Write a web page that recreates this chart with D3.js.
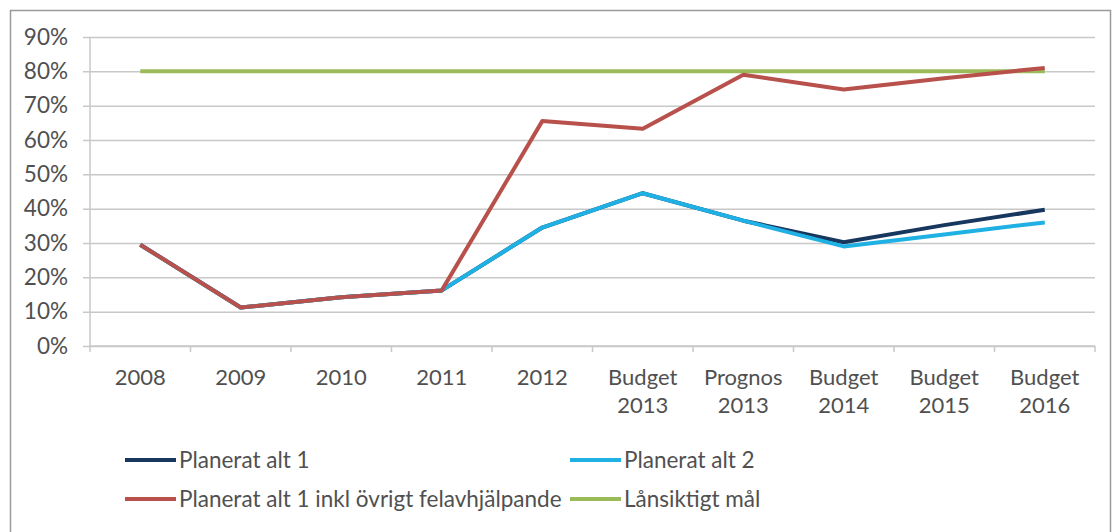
<!DOCTYPE html>
<html>
<head>
<meta charset="utf-8">
<script src="https://cdn.jsdelivr.net/npm/d3@7"></script>
<style>
  body { margin: 0; background: #fff; }
  svg text { font-family: Lato, "Liberation Sans", sans-serif; fill: #505050; }
</style>
</head>
<body>
<svg id="chart" width="1115" height="532"></svg>
<script>
const categories = ["2008", "2009", "2010", "2011", "2012", "Budget\n2013", "Prognos\n2013", "Budget\n2014", "Budget\n2015", "Budget\n2016"];
const alt1 = [29.5, 11.2, 14.2, 16.2, 34.5, 44.5, 36.5, 30.2, 35.2, 39.7];
const alt2 = [29.5, 11.2, 14.2, 16.2, 34.5, 44.5, 36.5, 29.0, 32.5, 36.0];
const alt1Inkl = [29.5, 11.2, 14.2, 16.2, 65.5, 63.3, 79.0, 74.7, 78.0, 81.0];
const goal = [80, 80, 80, 80, 80, 80, 80, 80, 80, 80];
const yTicks = [0, 10, 20, 30, 40, 50, 60, 70, 80, 90];

const series = [
  {name: "Planerat alt 1", values: alt1, color: "#17375e"},
  {name: "Planerat alt 2", values: alt2, color: "#1fb0e4"},
  {name: "Planerat alt 1 inkl övrigt felavhjälpande", values: alt1Inkl, color: "#b8504c"},
  {name: "Lånsiktigt mål", values: goal, color: "#9bbb59"}
];
// drawing order: navy under blue, green under red
const drawOrder = [0, 1, 3, 2];

const svg = d3.select("#chart");
const margin = {left: 90, right: 20, top: 37, bottom: 186};
const W = 1115, H = 532;

// outer frame
svg.append("rect")
  .attr("x", 10.5).attr("y", 10.5)
  .attr("width", 1100).attr("height", 540)
  .attr("fill", "none").attr("stroke", "#9a9a9a").attr("stroke-width", 1.5);

const x = d3.scaleBand(categories, [margin.left, W - margin.right]);
const y = d3.scaleLinear([0, 90], [H - margin.bottom, margin.top]);

// gridlines + y axis
svg.append("g")
  .attr("transform", `translate(${margin.left},0)`)
  .call(d3.axisLeft(y).tickValues(yTicks).tickFormat(d => d + "%")
    .tickSize(-(W - margin.right - margin.left)).tickSizeOuter(0).tickPadding(22))
  .call(g => g.select(".domain").remove())
  .call(g => g.selectAll(".tick line").attr("stroke", "#c8c8c8").attr("stroke-width", 1.5)
    .attr("x1", -7))
  .call(g => g.selectAll(".tick text").attr("font-size", 22.5).attr("fill", "#505050"));

svg.append("line")
  .attr("x1", margin.left).attr("x2", margin.left)
  .attr("y1", y(90)).attr("y2", y(0) + 6)
  .attr("stroke", "#c8c8c8").attr("stroke-width", 1.5);

// x axis
const xg = svg.append("g")
  .attr("transform", `translate(0,${y(0)})`);
xg.append("line")
  .attr("x1", margin.left).attr("x2", W - margin.right)
  .attr("stroke", "#c8c8c8").attr("stroke-width", 1.5);
xg.selectAll(".xtick")
  .data(categories.slice(1).map(c => x(c)).concat([W - margin.right]))
  .join("line")
  .attr("x1", d => d).attr("x2", d => d)
  .attr("y1", 0).attr("y2", 6)
  .attr("stroke", "#c8c8c8").attr("stroke-width", 1.5);
xg.selectAll(".xlabel")
  .data(categories)
  .join("text")
  .attr("text-anchor", "middle")
  .attr("font-size", 22)
  .attr("x", d => x(d) + x.bandwidth() / 2)
  .selectAll("tspan")
  .data(d => d.split("\n"))
  .join("tspan")
  .attr("x", function() { return d3.select(this.parentNode).attr("x"); })
  .attr("y", (d, i) => 39 + i * 28)
  .text(d => d);

// lines
const line = d3.line()
  .x((d, i) => x(categories[i]) + x.bandwidth() / 2)
  .y(d => y(d));

svg.append("g")
  .attr("fill", "none")
  .attr("stroke-width", 4)
  .attr("stroke-linejoin", "round")
  .selectAll("path")
  .data(drawOrder.map(i => series[i]))
  .join("path")
  .attr("stroke", d => d.color)
  .attr("d", d => line(d.values));

// legend
const legendPos = [[125, 460], [570, 460], [125, 499], [570, 499]];
const lg = svg.append("g")
  .selectAll("g")
  .data(series)
  .join("g")
  .attr("transform", (d, i) => `translate(${legendPos[i][0]},${legendPos[i][1]})`);
lg.append("line")
  .attr("x1", 0).attr("x2", 51)
  .attr("stroke", d => d.color).attr("stroke-width", 4);
lg.append("text")
  .attr("x", 54).attr("dy", "0.35em")
  .attr("font-size", 22.5)
  .text(d => d.name);
</script>
</body>
</html>
